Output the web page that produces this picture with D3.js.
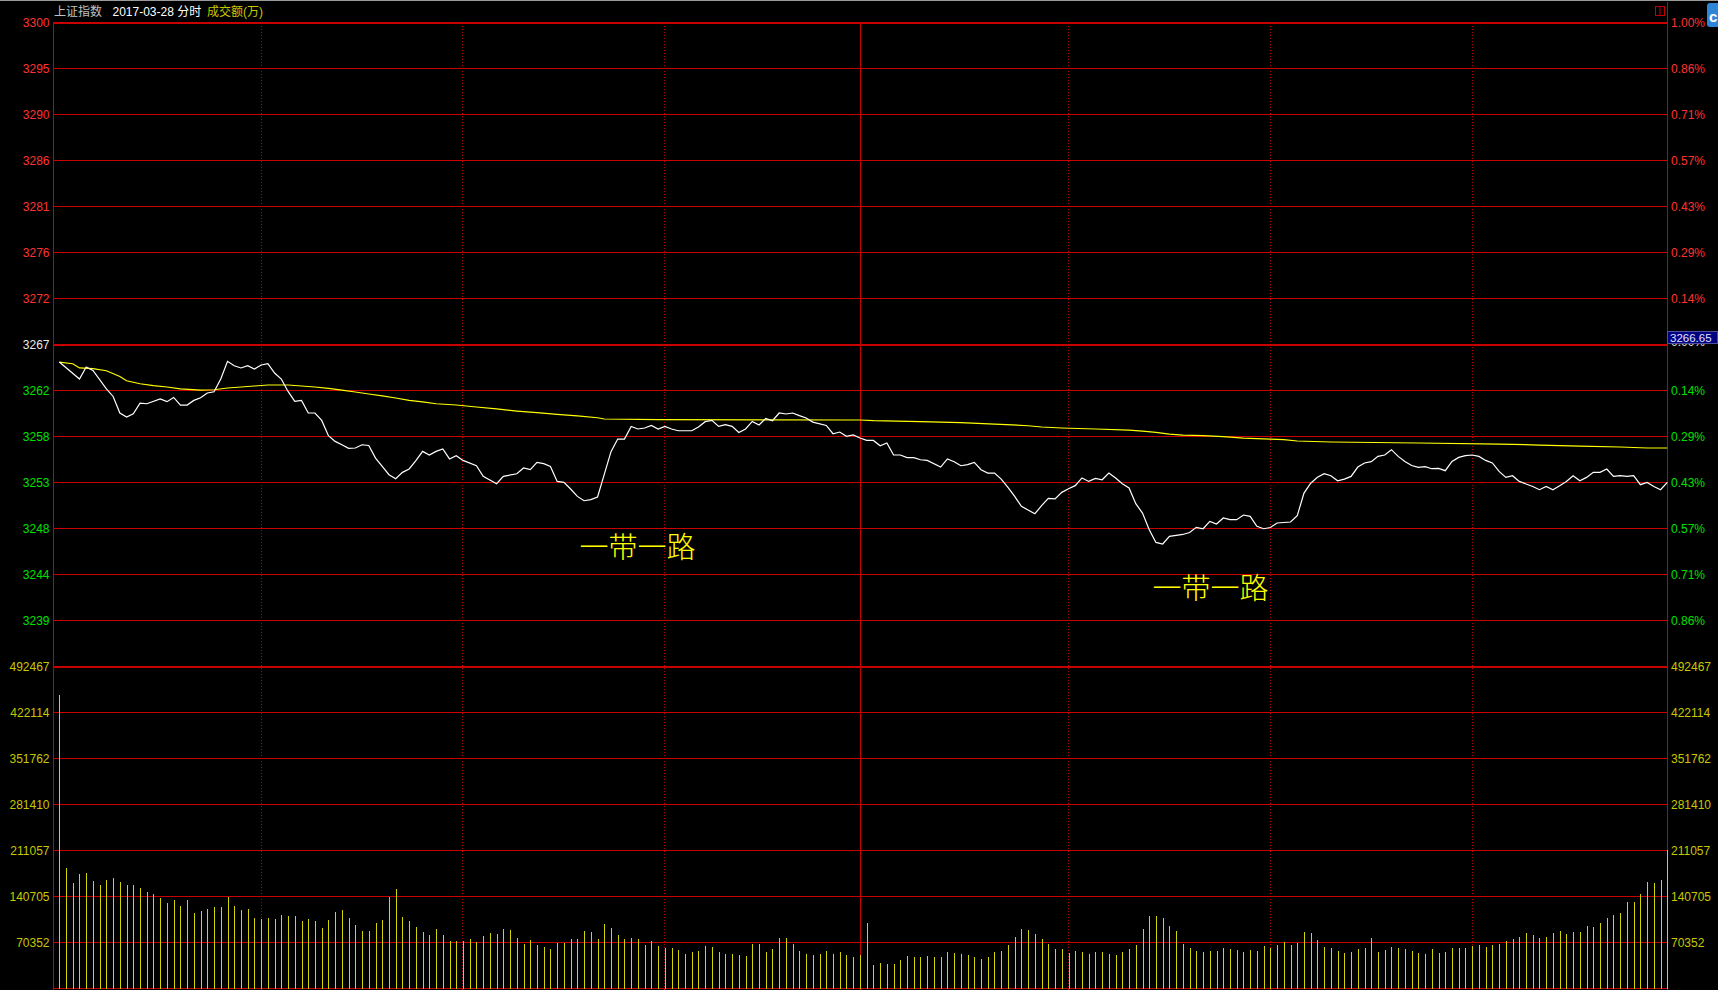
<!DOCTYPE html>
<html><head><meta charset="utf-8">
<script src="https://cdn.jsdelivr.net/npm/d3@7/dist/d3.min.js"></script>
<style>html,body{margin:0;padding:0;background:#000;overflow:hidden}</style>
</head><body><svg id="c" width="1718" height="990"></svg>
<script>
// ---------------- data ----------------
const headerName = "上证指数";
const headerDate = "2017-03-28 分时";
const headerVol = "成交额(万)";
const preClose = 3266.65;
const priceLabels = ["3300","3295","3290","3286","3281","3276","3272","3267","3262","3258","3253","3248","3244","3239"];
const pctLabels = ["1.00%","0.86%","0.71%","0.57%","0.43%","0.29%","0.14%","0.00%","0.14%","0.29%","0.43%","0.57%","0.71%","0.86%"];
const volLabels = ["492467","422114","351762","281410","211057","140705","70352"];
const volTop = 492467;
const lastPriceLabel = "3266.65";
const annotations = ["一带一路","一带一路"];
const gridMinutes = [30,60,90,150,180,210];

// [minute index, price]
const pricePoints = [[0,3264.89],[3,3263.17],[4,3264.39],[5,3264.04],[7,3262.16],[8,3261.40],[9,3259.72],[10,3259.31],[11,3259.65],[12,3260.73],[13,3260.66],[15,3261.14],[16,3260.87],[17,3261.30],[18,3260.53],[19,3260.53],[20,3261.00],[21,3261.27],[22,3261.75],[23,3261.88],[24,3263.17],[25,3264.96],[26,3264.52],[27,3264.29],[28,3264.52],[29,3264.18],[30,3264.59],[31,3264.72],[32,3263.78],[33,3263.17],[34,3261.91],[35,3260.90],[36,3261.00],[37,3259.72],[38,3259.72],[39,3258.97],[40,3257.42],[41,3256.84],[42,3256.50],[43,3256.13],[44,3256.17],[45,3256.50],[46,3256.43],[47,3255.15],[48,3254.30],[49,3253.46],[50,3253.06],[51,3253.70],[52,3254.04],[53,3254.88],[54,3255.83],[55,3255.46],[56,3255.83],[57,3256.07],[58,3255.06],[59,3255.39],
[60,3254.91],[62,3254.37],[63,3253.29],[65,3252.55],[66,3253.29],[68,3253.56],[69,3254.14],[70,3253.97],[71,3254.71],[72,3254.58],[73,3254.30],[74,3252.78],[75,3252.68],[76,3252.01],[77,3251.26],[78,3250.82],[79,3250.93],[80,3251.20],[81,3253.50],[82,3255.80],[83,3257.08],[84,3257.08],[85,3258.36],[86,3258.10],[87,3258.20],[88,3258.46],[89,3258.10],[90,3258.36],[91,3258.10],[92,3257.92],[94,3257.92],[95,3258.30],[96,3258.84],[97,3258.97],[98,3258.36],[99,3258.53],[100,3258.36],[101,3257.75],[102,3258.10],[103,3258.87],[104,3258.50],[105,3259.17],[106,3258.94],[107,3259.72],[108,3259.62],[109,3259.72],[110,3259.45],[111,3259.21],[112,3258.80],[114,3258.46],[115,3257.62],[116,3257.79],[117,3257.35],[118,3257.49],[119,3257.18],
[120,3256.94],[121,3256.94],[122,3256.40],[123,3256.68],[124,3255.46],[125,3255.46],[126,3255.19],[127,3255.19],[128,3254.98],[129,3254.91],[131,3254.24],[132,3255.06],[133,3254.78],[134,3254.37],[135,3254.48],[136,3254.71],[137,3253.97],[138,3253.63],[139,3253.63],[140,3253.02],[141,3252.17],[142,3251.26],[143,3250.25],[145,3249.50],[146,3250.32],[147,3251.06],[148,3251.00],[149,3251.67],[150,3252.04],[151,3252.35],[152,3253.13],[153,3252.78],[154,3253.09],[155,3252.95],[156,3253.63],[157,3253.13],[158,3252.55],[159,3252.11],[160,3250.52],[161,3249.57],[162,3247.88],[163,3246.59],[164,3246.43],[165,3247.20],[166,3247.30],[167,3247.40],[168,3247.60],[169,3248.12],[170,3247.98],[171,3248.72],[172,3248.46],[173,3249.07],[174,3248.90],[175,3248.90],[176,3249.37],[177,3249.23],[178,3248.22],[179,3247.98],[180,3248.10],[181,3248.56],[183,3248.66],[184,3249.30],[185,3251.60],[186,3252.60],[187,3253.20],[188,3253.56],[189,3253.36],[190,3252.85],[191,3253.02],[192,3253.29],[193,3254.24],[194,3254.65],[195,3254.78],[196,3255.32],[197,3255.46],[198,3256.00],[199,3255.32],[200,3254.81],[201,3254.40],[202,3254.20],[203,3254.27],[204,3254.07],[205,3254.10],[206,3253.87],[207,3254.81],[208,3255.22],[209,3255.39],[210,3255.46],[211,3255.32],[212,3254.91],[213,3254.65],[214,3253.80],[215,3253.19],[216,3253.36],[217,3252.78],[218,3252.52],[219,3252.27],[220,3251.94],[221,3252.27],[222,3251.94],[223,3252.35],[224,3252.78],[225,3253.36],[226,3252.85],[227,3253.19],[228,3253.70],[229,3253.70],[230,3254.04],[231,3253.29],[232,3253.36],[233,3253.29],[234,3253.36],[235,3252.45],[236,3252.68],[237,3252.27],[238,3251.94],[239,3252.68]];

// [minute index, average price]
const avgPoints = [[0,3264.89],[2,3264.72],[3,3264.29],[5,3264.22],[7,3264.01],[9,3263.43],[10,3262.99],[12,3262.69],[14,3262.49],[16,3262.36],[18,3262.16],[21,3262.05],[23,3262.08],[25,3262.26],[27,3262.36],[29,3262.46],[31,3262.56],[34,3262.56],[36,3262.46],[38,3262.36],[40,3262.22],[42,3262.05],[44,3261.85],[46,3261.65],[48,3261.45],[50,3261.24],[52,3261.00],[54,3260.84],[56,3260.66],[59,3260.53],[62,3260.33],[65,3260.13],[68,3259.92],[71,3259.75],[74,3259.58],[77,3259.42],[80,3259.24],[81,3259.11],[89,3259.04],[119,3259.01],[121,3258.94],[128,3258.84],[134,3258.74],[139,3258.60],[144,3258.43],[146,3258.30],[149,3258.20],[154,3258.10],[159,3257.99],[161,3257.89],[163,3257.75],[165,3257.58],[167,3257.48],[170,3257.42],[173,3257.32],[176,3257.18],[180,3257.08],[182,3257.01],[184,3256.88],[189,3256.78],[202,3256.68],[214,3256.57],[220,3256.47],[226,3256.37],[232,3256.27],[236,3256.17],[239,3256.17]];

// per-minute turnover (万)
const volume = [449200,184100,161700,175400,177000,164700,158600,166200,168800,163200,
158600,158600,153600,147900,144800,138700,131100,135700,126500,135700,
115800,118800,121900,125000,125000,140200,126500,120400,121900,108100,
106600,108100,106600,112700,111200,111200,103500,106600,103500,92800,
105100,117300,120400,108100,97400,88200,88200,100500,105100,140200,
152500,109700,103500,94400,86700,82100,91300,82100,73000,73000,
73000,76000,71400,80600,85200,83700,91300,89800,77500,68400,
74500,66800,63800,60700,69900,69900,76000,76000,88200,86700,
76000,99000,92800,82100,76000,77500,76000,66800,73000,65300,
62200,62200,59200,53100,56100,57700,65300,63800,56100,53100,
53100,51500,50000,68400,68400,56100,60700,77500,77500,68400,
57700,53100,51500,53100,57700,53100,56100,51500,48500,51500,
100500,36200,39300,37800,37800,43900,50000,48500,48500,50000,
48500,48500,56100,54600,53100,51500,48500,45400,48500,56100,
57700,66800,79100,91300,89800,83700,76000,68400,60700,60700,
54600,57700,56100,53100,56100,56100,53100,51500,56100,60700,
66800,91300,111200,111200,108100,95900,88200,68400,62200,57700,
56100,57700,57700,62200,60700,59200,56100,59200,57700,65300,
62200,66800,71400,66800,69900,86700,85200,74500,63800,62200,
57700,54600,56100,60700,62200,77500,56100,59200,63800,62200,
60700,57700,54600,53100,60700,54600,56100,62200,62200,62200,
65300,66800,63800,66800,68400,73000,76000,79100,85200,82100,
77500,79100,85200,88200,83700,86700,86700,95900,94400,100500,
108100,112700,115800,132600,132600,144800,163200,161700,166200,212600];

// ---------------- layout / style ----------------
const W = 1718, H = 990;
const L = 53.5, R = 1667.5;
const GRID = "#c80000";
const FONT = "'Liberation Sans', Arial, 'Noto Sans CJK SC', sans-serif";

const svg = d3.select("#c");
svg.append("rect").attr("width", W).attr("height", H).attr("fill", "#000");

const x = d3.scaleLinear().domain([0, 239]).range([59.3, 1667.3]);
const row = d3.scaleLinear().domain([0, 21]).range([22.7, 988.7]);
const yP = d3.scaleLinear().domain([preClose * 0.99, preClose * 1.01]).range([row(14), row(0)]);
const yV = d3.scaleLinear().domain([0, volTop]).range([row(21), row(14)]);

// top border
svg.append("rect").attr("x", 0).attr("y", 0).attr("width", W).attr("height", 1).attr("fill", "#9a9a9a");

const g = svg.append("g").attr("shape-rendering", "crispEdges");

// horizontal grid
d3.range(0, 22).forEach(k => {
  const thick = (k === 0 || k === 7 || k === 14);
  const yy = thick ? Math.round(row(k)) : Math.floor(row(k)) + 0.5;
  g.append("line").attr("x1", L).attr("x2", R).attr("y1", yy).attr("y2", yy)
    .attr("stroke", GRID).attr("stroke-width", thick ? 2 : 1);
});

// vertical dotted grid
gridMinutes.forEach(m => {
  const xx = Math.floor(x(m)) + 0.5;
  g.append("line").attr("x1", xx).attr("x2", xx).attr("y1", row(0)).attr("y2", H)
    .attr("stroke", "#b00000").attr("stroke-width", 1).attr("stroke-dasharray", "1,2");
});
// midday solid line
{
  const xx = Math.floor(x(119)) + 1.5;
  g.append("line").attr("x1", xx).attr("x2", xx).attr("y1", row(0)).attr("y2", H)
    .attr("stroke", GRID).attr("stroke-width", 1);
}
// axes
g.append("line").attr("x1", L).attr("x2", L).attr("y1", row(0) - 1).attr("y2", H).attr("stroke", GRID);
g.append("line").attr("x1", R).attr("x2", R).attr("y1", 2).attr("y2", H).attr("stroke", GRID);

// volume bars
g.selectAll("line.vol").data(volume).enter().append("line").attr("class", "vol")
  .attr("x1", (d, i) => Math.round(x(i)) + 0.5).attr("x2", (d, i) => Math.round(x(i)) + 0.5)
  .attr("y1", yV(0)).attr("y2", d => yV(d))
  .attr("stroke", "#d4d400").attr("stroke-width", 1);

// average line (yellow) and price line (white)
const line = d3.line().x(d => x(d[0])).y(d => yP(d[1]));
svg.append("path").attr("d", line(avgPoints)).attr("fill", "none")
  .attr("stroke", "#ffff00").attr("stroke-width", 1.2);
svg.append("path").attr("d", line(pricePoints)).attr("fill", "none")
  .attr("stroke", "#ffffff").attr("stroke-width", 1.2);

// axis labels
const lab = svg.append("g").attr("font-family", FONT).attr("font-size", 12);
priceLabels.forEach((t, k) => {
  const col = k < 7 ? "#ff3232" : (k === 7 ? "#e8e8e8" : "#00e000");
  lab.append("text").attr("x", 49.5).attr("y", row(k)).attr("text-anchor", "end")
    .attr("dominant-baseline", "central").attr("fill", col).text(t);
});
pctLabels.forEach((t, k) => {
  const col = k < 7 ? "#ff3232" : (k === 7 ? "#e8e8e8" : "#00e000");
  // the 0.00% label sits mostly hidden under the last-price box, as in the reference
  lab.append("text").attr("x", 1671).attr("y", k === 7 ? row(k) - 3 : row(k)).attr("text-anchor", "start")
    .attr("dominant-baseline", "central").attr("fill", col).text(t);
});
volLabels.forEach((t, j) => {
  lab.append("text").attr("x", 49.5).attr("y", row(14 + j)).attr("text-anchor", "end")
    .attr("dominant-baseline", "central").attr("fill", "#c8c800").text(t);
  lab.append("text").attr("x", 1671).attr("y", row(14 + j)).attr("text-anchor", "start")
    .attr("dominant-baseline", "central").attr("fill", "#c8c800").text(t);
});

// last price box on the right axis (covers the 0.00% label)
svg.append("rect").attr("x", 1667.5).attr("y", 331.5).attr("width", 50).attr("height", 12)
  .attr("fill", "#000080").attr("stroke", "#5050a0").attr("stroke-width", 1);
svg.append("text").attr("x", 1670).attr("y", 337.5).attr("dominant-baseline", "central")
  .attr("font-family", FONT).attr("font-size", 11.5).attr("fill", "#e0e0ff").text(lastPriceLabel);

// header
const hdr = svg.append("g").attr("font-family", FONT).attr("font-size", 12);
hdr.append("text").attr("x", 54).attr("y", 12).attr("dominant-baseline", "central").attr("fill", "#c0c0c0").text(headerName);
hdr.append("text").attr("x", 112.5).attr("y", 12).attr("dominant-baseline", "central").attr("fill", "#ffffff").text(headerDate);
hdr.append("text").attr("x", 207).attr("y", 12).attr("dominant-baseline", "central").attr("fill", "#c8c800").text(headerVol);

// small icons top-right
svg.append("rect").attr("x", 1655.5).attr("y", 6.5).attr("width", 9).attr("height", 9)
  .attr("fill", "none").attr("stroke", "#c00000");
svg.append("line").attr("x1", 1660).attr("x2", 1660).attr("y1", 6.5).attr("y2", 15.5).attr("stroke", "#c00000");
svg.append("rect").attr("x", 1707).attr("y", 3).attr("width", 16).attr("height", 24).attr("rx", 3)
  .attr("fill", "#2f86d6");
svg.append("text").attr("x", 1709).attr("y", 16).attr("dominant-baseline", "central")
  .attr("font-family", FONT).attr("font-weight", "bold").attr("font-size", 15).attr("fill", "#fff").text("c");

// annotations
const ann = svg.append("g").attr("font-family", "'Noto Sans CJK SC', sans-serif").attr("font-weight", 300)
  .attr("font-size", 29).attr("fill", "#ffff00");
ann.append("text").attr("x", x(77.3)).attr("y", yP(3246.3)).attr("dominant-baseline", "central").text(annotations[0]);
ann.append("text").attr("x", x(162.5)).attr("y", yP(3242.2)).attr("dominant-baseline", "central").text(annotations[1]);
</script>
</body></html>
